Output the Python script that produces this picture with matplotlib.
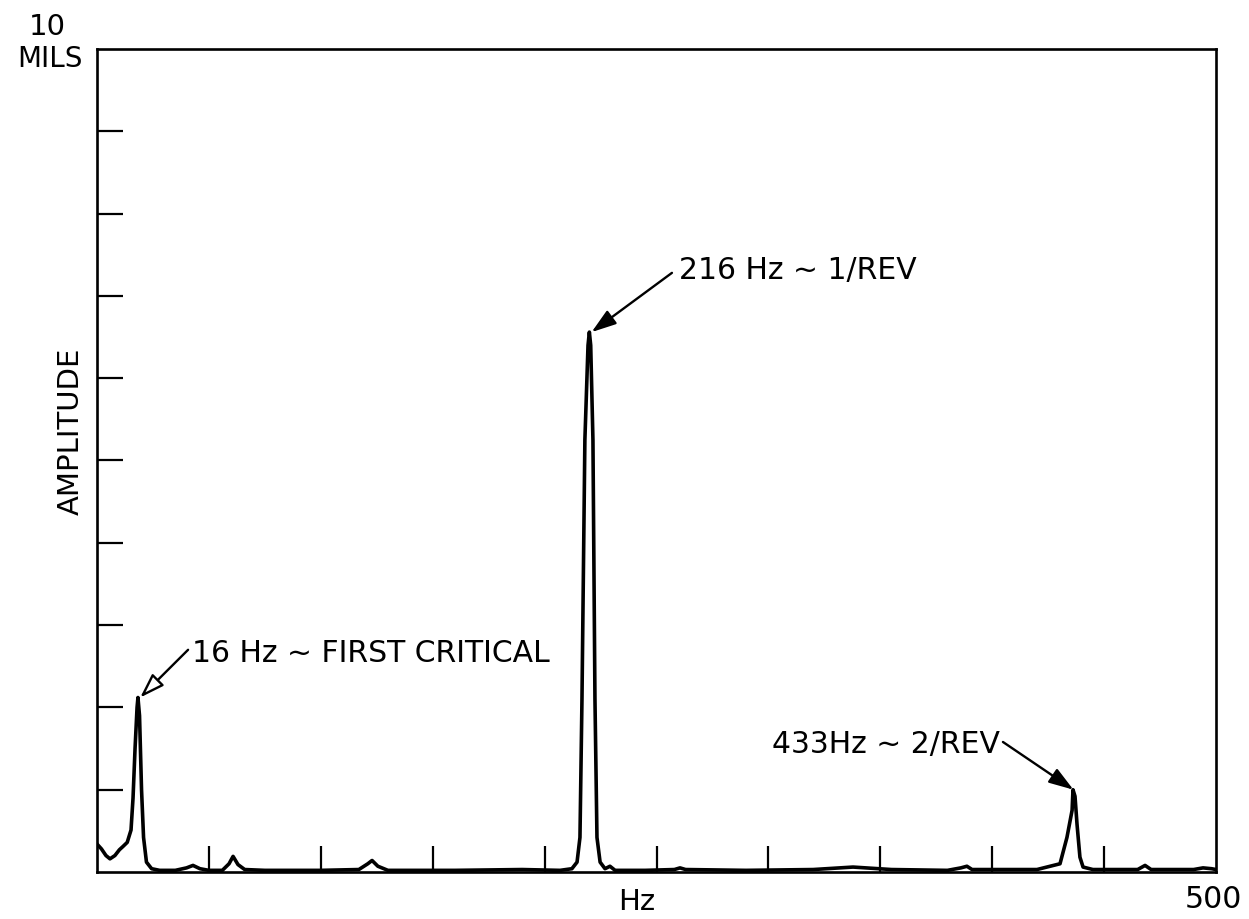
import matplotlib
matplotlib.use("Agg")
import matplotlib.pyplot as plt

# Spectrum (Hz, mils)
freq_hz = [0, 2, 4, 5.8, 8, 10, 11.6, 13.5, 15.2, 16.1, 17.0, 17.9, 18.3, 19.0, 19.9, 20.8,
           22.1, 24.4, 28, 35, 40, 42.9, 46, 50, 56, 59, 60.8, 63, 66, 75, 100, 117, 121,
           122.9, 125.5, 130, 160, 190, 206.9, 212.2, 214.5, 215.8, 216.7, 218.0, 219.4,
           220.0, 220.6, 221.6, 222.5, 223.4, 224.8, 227.0, 229.2, 231.5, 245, 258, 260.5,
           263, 290, 320, 337.8, 355, 380, 386, 388.7, 391, 420, 430.3, 433.4, 435.7, 436.1,
           437.0, 437.9, 439.2, 440.6, 445, 465, 468.3, 471, 490, 494.2, 498, 500]
amplitude_mils = [0.34, 0.28, 0.20, 0.16, 0.20, 0.27, 0.31, 0.36, 0.51, 0.90, 1.50, 2.00, 2.12,
                  1.90, 1.00, 0.42, 0.12, 0.04, 0.02, 0.02, 0.05, 0.08, 0.04, 0.02, 0.02, 0.10,
                  0.19, 0.09, 0.03, 0.02, 0.02, 0.03, 0.10, 0.14, 0.07, 0.02, 0.02, 0.03, 0.02,
                  0.04, 0.12, 0.42, 2.10, 5.25, 6.40, 6.56, 6.40, 5.25, 2.10, 0.42, 0.12, 0.04,
                  0.07, 0.02, 0.02, 0.03, 0.05, 0.03, 0.02, 0.03, 0.06, 0.03, 0.02, 0.05, 0.07,
                  0.03, 0.03, 0.10, 0.42, 0.75, 1.00, 0.92, 0.58, 0.18, 0.06, 0.03, 0.03, 0.08,
                  0.03, 0.03, 0.05, 0.04, 0.03]

x_ticks = [50, 100, 150, 200, 250, 300, 350, 400, 450]
y_ticks = [1, 2, 3, 4, 5, 6, 7, 8, 9]

# label, arrow tip, arrow tail, text anchor, text alignment, head face colour
annotations = [
    ("16 Hz ~ FIRST CRITICAL", (19.3, 2.12), (40.7, 2.70), (42.4, 2.55), "left", "white"),
    ("216 Hz ~ 1/REV", (221.0, 6.56), (256.9, 7.28), (260.1, 7.21), "left", "black"),
    ("433Hz ~ 2/REV", (436.3, 1.00), (404.8, 1.58), (403.5, 1.45), "right", "black"),
]

plt.rcParams['font.family'] = ['DejaVu Sans']
fig = plt.figure(figsize=(12.49, 9.19), dpi=100)
ax = fig.add_axes([97 / 1249, 1 - 872 / 919, (1216 - 97) / 1249, (872 - 49) / 919])

ax.plot(freq_hz, amplitude_mils, color="black", lw=2.6, solid_joinstyle="round")
ax.set_xlim(0, 500)
ax.set_ylim(0, 10)

for s in ax.spines.values():
    s.set_linewidth(1.9)

ax.set_xticks(x_ticks)
ax.set_yticks(y_ticks)
ax.tick_params(axis="both", direction="in", length=19, width=1.6, labelbottom=False, labelleft=False)

for label, tip, tail, anchor, ha, fc in annotations:
    ax.annotate("", xy=tip, xytext=tail,
                arrowprops=dict(arrowstyle="-|>,head_length=1.5,head_width=0.5", lw=1.7,
                                color="black", fc=fc, shrinkA=0, shrinkB=0))
    ax.text(anchor[0], anchor[1], label, fontsize=21.5, ha=ha, va="baseline")

fig.text(47 / 1249, 1 - 35 / 919, "10", fontsize=21, ha="center", va="baseline")
fig.text(50 / 1249, 1 - 67 / 919, "MILS", fontsize=20, ha="center", va="baseline")
fig.text(71 / 1249, 1 - 431 / 919, "AMPLITUDE", fontsize=21, rotation=90, ha="center", va="center")
fig.text(637 / 1249, 1 - 910 / 919, "Hz", fontsize=21, ha="center", va="baseline")
fig.text(1213 / 1249, 1 - 908 / 919, "500", fontsize=21.5, ha="center", va="baseline")

fig.savefig("out.png", dpi=100)
